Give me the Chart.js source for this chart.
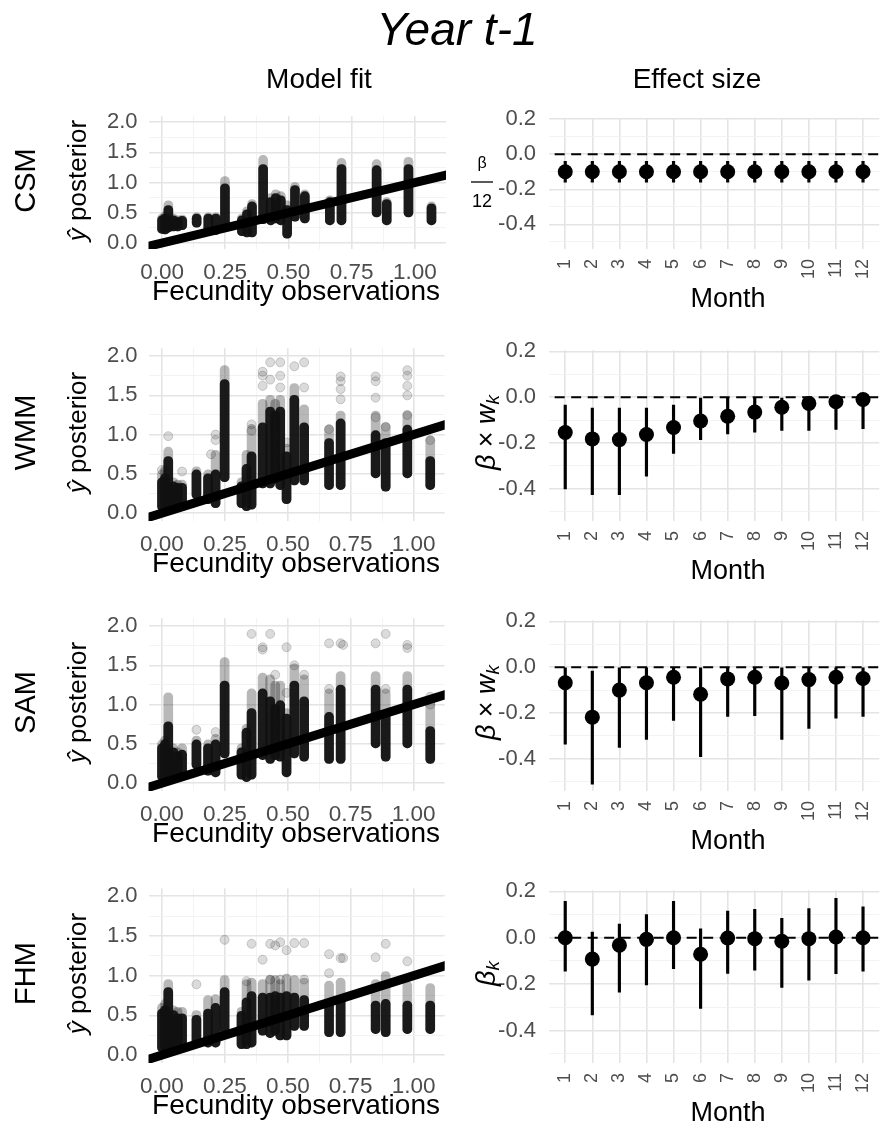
<!DOCTYPE html>
<html>
<head>
<meta charset="utf-8">
<script src="https://cdn.jsdelivr.net/npm/chart.js@4.4.1/dist/chart.umd.min.js"></script>
<style>
  html, body { margin: 0; padding: 0; background: #fff; width: 891px; height: 1128px; overflow: hidden; position: relative; }
  canvas { position: absolute; }
  #txt { position: absolute; left: 0; top: 0; z-index: 2; pointer-events: none; }
</style>
</head>
<body>
<svg id="txt" width="891" height="1128" font-family="'Liberation Sans', Arial, sans-serif"></svg>
<script>
// ---- data ----
const models = ['CSM', 'WMM', 'SAM', 'FHM'];
const months = [1, 2, 3, 4, 5, 6, 7, 8, 9, 10, 11, 12];

// fecundity observation values (x of each column of posterior draws)
const obsX = [0.0, 0.012, 0.025, 0.045, 0.062, 0.08, 0.137, 0.183, 0.213, 0.249, 0.316, 0.336, 0.356,
              0.40, 0.43, 0.45, 0.47, 0.495, 0.526, 0.565, 0.664, 0.71, 0.849, 0.889, 0.975, 1.066];
// 1:1 reference line
const fitEnds = [-0.2, 1.3];

// posterior prediction spread per column: low end, dense part top, full top
const csmLow  = [0.16, 0.15, 0.18, 0.2, 0.2, 0.22, 0.26, 0.16, 0.14, 0.2, 0.12, 0.1, 0.1, 0.32, 0.3, 0.33, 0.3, 0.08, 0.36, 0.33, 0.3, 0.3, 0.43, 0.3, 0.43, 0.3];
const csmCore = [0.45, 0.48, 0.62, 0.45, 0.42, 0.44, 0.48, 0.48, 0.48, 0.98, 0.45, 0.55, 0.68, 1.3, 0.75, 0.82, 0.78, 0.62, 0.95, 0.85, 0.75, 1.3, 1.28, 0.72, 1.3, 0.65];
const csmTop  = [0.48, 0.52, 0.7, 0.48, 0.45, 0.46, 0.5, 0.5, 0.5, 1.1, 0.48, 0.6, 0.72, 1.45, 0.82, 0.88, 0.85, 0.7, 1.0, 0.88, 0.78, 1.4, 1.38, 0.75, 1.42, 0.68];
const csmOut  = [];

const wmmLow  = [0.03, 0.03, 0.03, 0.05, 0.08, 0.1, 0.18, 0.12, 0.07, 0.4, 0.07, 0.03, 0.05, 0.32, 0.32, 0.38, 0.3, 0.12, 0.36, 0.36, 0.3, 0.3, 0.45, 0.28, 0.45, 0.3];
const wmmCore = [0.45, 0.5, 0.72, 0.4, 0.38, 0.38, 0.55, 0.5, 0.55, 1.7, 0.4, 0.62, 0.78, 1.15, 1.35, 1.3, 1.35, 0.78, 1.5, 1.15, 0.95, 1.2, 1.05, 0.95, 1.12, 0.72];
const wmmTop  = [0.55, 0.6, 0.84, 0.45, 0.42, 0.42, 0.59, 0.55, 0.8, 1.88, 0.45, 0.8, 1.13, 1.45, 1.5, 1.45, 1.5, 0.88, 1.65, 1.38, 1.12, 1.3, 1.3, 1.15, 1.3, 0.98];
const wmmOut  = [[0.025, 0.98], [0.0, 0.55], [0.08, 0.53], [0.213, 0.93], [0.195, 0.75], [0.213, 1.0], [0.40, 1.8], [0.40, 1.75], [0.40, 1.62],
                 [0.43, 1.92], [0.43, 1.7], [0.47, 1.92], [0.47, 1.75], [0.47, 1.6], [0.526, 1.87], [0.565, 1.92], [0.565, 1.6], [0.664, 1.07],
                 [0.71, 1.74], [0.71, 1.68], [0.71, 1.58], [0.71, 1.45], [0.849, 1.74], [0.849, 1.68], [0.849, 1.47], [0.849, 1.22], [0.889, 1.1],
                 [0.975, 1.82], [0.975, 1.75], [0.975, 1.62], [0.975, 1.5], [0.975, 1.25], [1.066, 0.93], [0.356, 1.13], [0.356, 1.05], [0.495, 0.9]];

const samLow  = [0.03, 0.03, 0.03, 0.05, 0.08, 0.1, 0.18, 0.1, 0.08, 0.32, 0.05, 0.02, 0.05, 0.3, 0.25, 0.3, 0.28, 0.08, 0.32, 0.28, 0.25, 0.25, 0.45, 0.28, 0.45, 0.25];
const samCore = [0.5, 0.55, 0.78, 0.45, 0.4, 0.42, 0.55, 0.5, 0.55, 1.3, 0.45, 0.7, 0.95, 1.2, 1.1, 1.0, 1.05, 0.88, 1.3, 1.1, 0.9, 1.25, 1.25, 0.9, 1.25, 0.72];
const samTop  = [0.55, 0.6, 1.15, 0.5, 0.45, 0.5, 0.6, 0.55, 0.62, 1.6, 0.5, 0.75, 1.2, 1.4, 1.38, 1.3, 1.3, 0.95, 1.52, 1.38, 1.2, 1.42, 1.42, 1.2, 1.42, 1.1];
const samOut  = [[0.137, 0.68], [0.213, 0.65], [0.336, 0.6], [0.356, 1.9], [0.40, 1.73], [0.40, 1.7], [0.43, 1.9], [0.45, 1.38], [0.495, 1.73],
                 [0.495, 1.15], [0.526, 1.5], [0.565, 1.38], [0.664, 1.78], [0.664, 1.2], [0.71, 1.78], [0.72, 1.76], [0.849, 1.78], [0.889, 1.9],
                 [0.889, 1.2], [0.975, 1.76], [0.975, 1.72], [1.066, 1.1], [1.066, 1.0]];

const fhmLow  = [0.04, 0.05, 0.05, 0.05, 0.08, 0.1, 0.12, 0.1, 0.1, 0.27, 0.08, 0.08, 0.1, 0.25, 0.22, 0.25, 0.19, 0.19, 0.31, 0.31, 0.23, 0.23, 0.27, 0.23, 0.27, 0.27];
const fhmCore = [0.58, 0.62, 0.85, 0.56, 0.52, 0.52, 0.5, 0.58, 0.65, 0.85, 0.55, 0.72, 0.8, 0.78, 0.78, 0.8, 0.78, 0.8, 0.78, 0.75, 0.7, 0.75, 0.68, 0.7, 0.68, 0.68];
const fhmTop  = [0.65, 0.7, 0.95, 0.62, 0.6, 0.6, 0.56, 0.75, 0.76, 1.0, 0.6, 0.95, 0.97, 0.95, 1.0, 1.0, 0.95, 1.02, 1.0, 0.97, 0.93, 0.97, 0.95, 1.05, 0.93, 0.9];
const fhmOut  = [[0.137, 0.89], [0.249, 1.45], [0.356, 1.4], [0.336, 0.93], [0.40, 1.2], [0.43, 1.4], [0.45, 1.38], [0.47, 1.42], [0.495, 1.32],
                 [0.526, 1.41], [0.565, 1.41], [0.664, 1.27], [0.664, 1.03], [0.71, 1.22], [0.72, 1.22], [0.849, 1.23], [0.889, 1.4], [0.975, 1.18],
                 [0.43, 0.95], [0.47, 0.95], [0.565, 0.95]];

// monthly effect sizes: estimate, lower and upper interval
const csmEst = [-0.10, -0.10, -0.10, -0.10, -0.10, -0.10, -0.10, -0.10, -0.10, -0.10, -0.10, -0.10];
const csmLo  = [-0.16, -0.16, -0.16, -0.16, -0.16, -0.16, -0.16, -0.16, -0.16, -0.16, -0.16, -0.16];
const csmHi  = [-0.04, -0.04, -0.04, -0.04, -0.04, -0.04, -0.04, -0.04, -0.04, -0.04, -0.04, -0.04];

const wmmEst = [-0.154, -0.182, -0.185, -0.163, -0.132, -0.104, -0.083, -0.065, -0.044, -0.027, -0.020, -0.010];
const wmmLo  = [-0.40, -0.425, -0.425, -0.345, -0.245, -0.185, -0.160, -0.152, -0.145, -0.145, -0.140, -0.137];
const wmmHi  = [-0.034, -0.048, -0.048, -0.048, -0.034, -0.004, -0.004, -0.004, -0.004, -0.010, 0.0, 0.008];

const samEst = [-0.068, -0.218, -0.100, -0.068, -0.044, -0.118, -0.051, -0.044, -0.069, -0.054, -0.044, -0.049];
const samLo  = [-0.336, -0.51, -0.35, -0.315, -0.232, -0.39, -0.215, -0.211, -0.315, -0.267, -0.222, -0.215];
const samHi  = [-0.003, -0.017, -0.003, -0.003, -0.003, -0.003, -0.003, -0.003, -0.003, -0.003, -0.003, -0.003];

const fhmEst = [0.0, -0.092, -0.032, -0.007, 0.0, -0.071, -0.001, -0.004, -0.015, -0.004, 0.003, 0.0];
const fhmLo  = [-0.144, -0.333, -0.235, -0.203, -0.133, -0.305, -0.154, -0.140, -0.214, -0.183, -0.155, -0.144];
const fhmHi  = [0.157, 0.024, 0.059, 0.100, 0.157, 0.038, 0.115, 0.122, 0.084, 0.126, 0.170, 0.133];

// tick values
const fitXTicks = [0, 0.125, 0.25, 0.375, 0.5, 0.625, 0.75, 0.875, 1.0];
const fitYTicks = [0, 0.25, 0.5, 0.75, 1.0, 1.25, 1.5, 1.75, 2.0];
const effYTicks = [-0.5, -0.4, -0.3, -0.2, -0.1, 0, 0.1, 0.2];

// ---- layout ----
const FONT = "'Liberation Sans', Arial, sans-serif";
Chart.defaults.font.family = FONT;
Chart.defaults.color = '#4d4d4d';

const rowTop = [112, 344, 614, 884];
const rowBottom = [249, 521, 791, 1063];
const PAD_TOP = 20, X_AXIS_H = 44;

const onStep = (v, step) => Math.abs(v / step - Math.round(v / step)) < 1e-6;

function gridFor(isMajor) {
  return {
    drawTicks: false,
    offset: false,
    color: c => isMajor(c.tick.value) ? '#e4e4e4' : '#f0f0f0',
    lineWidth: c => isMajor(c.tick.value) ? 1.6 : 0.8
  };
}

function makeCanvas(left, top, w, h) {
  const cv = document.createElement('canvas');
  cv.width = w; cv.height = h;
  cv.style.left = left + 'px'; cv.style.top = top + 'px';
  cv.style.width = w + 'px'; cv.style.height = h + 'px';
  document.body.appendChild(cv);
  return cv;
}

function drawFit(r, low, core, top, extra) {
  const h = rowBottom[r] - rowTop[r] + PAD_TOP + X_AXIS_H;
  const cv = makeCanvas(0, rowTop[r] - PAD_TOP, 450, h);
  new Chart(cv, {
    type: 'scatter',
    data: {
      datasets: [
        { type: 'line', data: fitEnds.map(v => ({ x: v, y: v })), borderColor: '#000', borderWidth: 9,
          pointRadius: 0, clip: 0, order: 0 },
        { type: 'bar', data: obsX.map((x, i) => ({ x: x, y: [low[i], core[i]] })), backgroundColor: 'rgba(17,17,17,0.95)',
          barThickness: 9, borderRadius: 4.5, borderSkipped: false, grouped: false, order: 1 },
        { type: 'bar', data: obsX.map((x, i) => ({ x: x, y: [low[i], top[i]] })), backgroundColor: 'rgba(0,0,0,0.28)',
          barThickness: 9, borderRadius: 4.5, borderSkipped: false, grouped: false, order: 2 },
        { data: extra.map(p => ({ x: p[0], y: p[1] })), pointRadius: 4.5, backgroundColor: 'rgba(0,0,0,0.14)',
          borderColor: 'rgba(0,0,0,0.22)', borderWidth: 0.8, order: 3 }
      ]
    },
    options: {
      responsive: false, animation: false, events: [], devicePixelRatio: 1,
      layout: { padding: { top: PAD_TOP, right: 4, bottom: 0, left: 0 } },
      plugins: { legend: { display: false }, tooltip: { enabled: false } },
      scales: {
        x: {
          type: 'linear', min: -0.0535, max: 1.1235, offset: false,
          afterBuildTicks: s => { s.ticks = fitXTicks.map(v => ({ value: v })); },
          afterFit: s => { s.height = X_AXIS_H; },
          grid: gridFor(v => onStep(v, 0.25)),
          border: { display: false },
          ticks: { padding: 10, autoSkip: false, maxRotation: 0, font: { size: 22.5 },
                   callback: v => onStep(v, 0.25) ? v.toFixed(2) : '' }
        },
        y: {
          min: -0.1, max: 2.1,
          afterBuildTicks: s => { s.ticks = fitYTicks.map(v => ({ value: v })); },
          afterFit: s => { s.width = 148.5; },
          grid: gridFor(v => onStep(v, 0.5)),
          border: { display: false },
          ticks: { padding: 11, autoSkip: false, font: { size: 22 },
                   callback: v => onStep(v, 0.5) ? v.toFixed(1) : '' }
        }
      }
    }
  });
}

function drawEffect(r, est, lo, hi) {
  const h = rowBottom[r] - rowTop[r] + PAD_TOP + X_AXIS_H;
  const cv = makeCanvas(450, rowTop[r] - PAD_TOP, 445, h);
  new Chart(cv, {
    type: 'scatter',
    data: {
      datasets: [
        { data: months.map((m, i) => ({ x: m, y: est[i] })), pointRadius: 7.5, backgroundColor: '#000',
          borderWidth: 0, order: 0 },
        { type: 'bar', data: months.map((m, i) => ({ x: m, y: [lo[i], hi[i]] })), backgroundColor: '#000',
          barThickness: 2.5, grouped: false, order: 1 },
        { type: 'line', data: [{ x: 0, y: 0 }, { x: 13, y: 0 }], borderColor: '#000', borderWidth: 2,
          borderDash: [10, 6.5], pointRadius: 0, clip: 0, order: 2 }
      ]
    },
    options: {
      responsive: false, animation: false, events: [], devicePixelRatio: 1,
      layout: { padding: { top: PAD_TOP, right: 0, bottom: 0, left: 0 } },
      plugins: { legend: { display: false }, tooltip: { enabled: false } },
      scales: {
        x: {
          type: 'linear', min: 0.4, max: 12.6, offset: false,
          afterBuildTicks: s => { s.ticks = months.map(v => ({ value: v })); },
          afterFit: s => { s.height = X_AXIS_H; },
          grid: gridFor(() => true),
          border: { display: false },
          ticks: { padding: 10, autoSkip: false, minRotation: 90, maxRotation: 90, font: { size: 18 },
                   callback: v => String(v) }
        },
        y: {
          min: -0.54, max: 0.205,
          afterBuildTicks: s => { s.ticks = effYTicks.map(v => ({ value: v })); },
          afterFit: s => { s.width = 99; },
          grid: gridFor(v => onStep(v, 0.2)),
          border: { display: false },
          ticks: { padding: 13, autoSkip: false, font: { size: 22 },
                   callback: v => onStep(v, 0.2) ? v.toFixed(1) : '' }
        }
      }
    }
  });
}

drawFit(0, csmLow, csmCore, csmTop, csmOut);
drawFit(1, wmmLow, wmmCore, wmmTop, wmmOut);
drawFit(2, samLow, samCore, samTop, samOut);
drawFit(3, fhmLow, fhmCore, fhmTop, fhmOut);
drawEffect(0, csmEst, csmLo, csmHi);
drawEffect(1, wmmEst, wmmLo, wmmHi);
drawEffect(2, samEst, samLo, samHi);
drawEffect(3, fhmEst, fhmLo, fhmHi);

// ---- text ----
let s = '';
s += '<text x="457" y="45" font-size="46" font-style="italic" text-anchor="middle">Year t-1</text>';
s += '<text x="319" y="88" font-size="28" text-anchor="middle">Model fit</text>';
s += '<text x="697" y="88" font-size="28" text-anchor="middle">Effect size</text>';
models.forEach((m, r) => {
  const yc = (rowTop[r] + rowBottom[r]) / 2;
  s += `<text transform="translate(35 ${yc}) rotate(-90)" font-size="29" text-anchor="middle">${m}</text>`;
  s += `<text transform="translate(86 ${yc}) rotate(-90)" font-size="26" text-anchor="middle"><tspan font-style="italic">ŷ</tspan> posterior</text>`;
  s += `<text x="296" y="${rowBottom[r] + 51}" font-size="28" text-anchor="middle">Fecundity observations</text>`;
  s += `<text x="728" y="${rowBottom[r] + 58}" font-size="27" text-anchor="middle">Month</text>`;
  if (r === 0) {
    s += `<text x="482" y="${yc - 13}" font-size="16" text-anchor="middle">β</text>`;
    s += `<line x1="471" x2="493" y1="${yc + 1.5}" y2="${yc + 1.5}" stroke="#000" stroke-width="1.3"/>`;
    s += `<text x="482" y="${yc + 26}" font-size="18" text-anchor="middle">12</text>`;
  } else if (r < 3) {
    s += `<text transform="translate(495 ${yc}) rotate(-90)" font-size="27" text-anchor="middle"><tspan font-style="italic">β</tspan> × <tspan font-style="italic">w</tspan><tspan font-style="italic" font-size="19" dy="4">k</tspan></text>`;
  } else {
    s += `<text transform="translate(495 ${yc}) rotate(-90)" font-size="27" text-anchor="middle"><tspan font-style="italic">β</tspan><tspan font-style="italic" font-size="19" dy="4">k</tspan></text>`;
  }
});
document.getElementById('txt').innerHTML = s;
</script>
</body>
</html>
